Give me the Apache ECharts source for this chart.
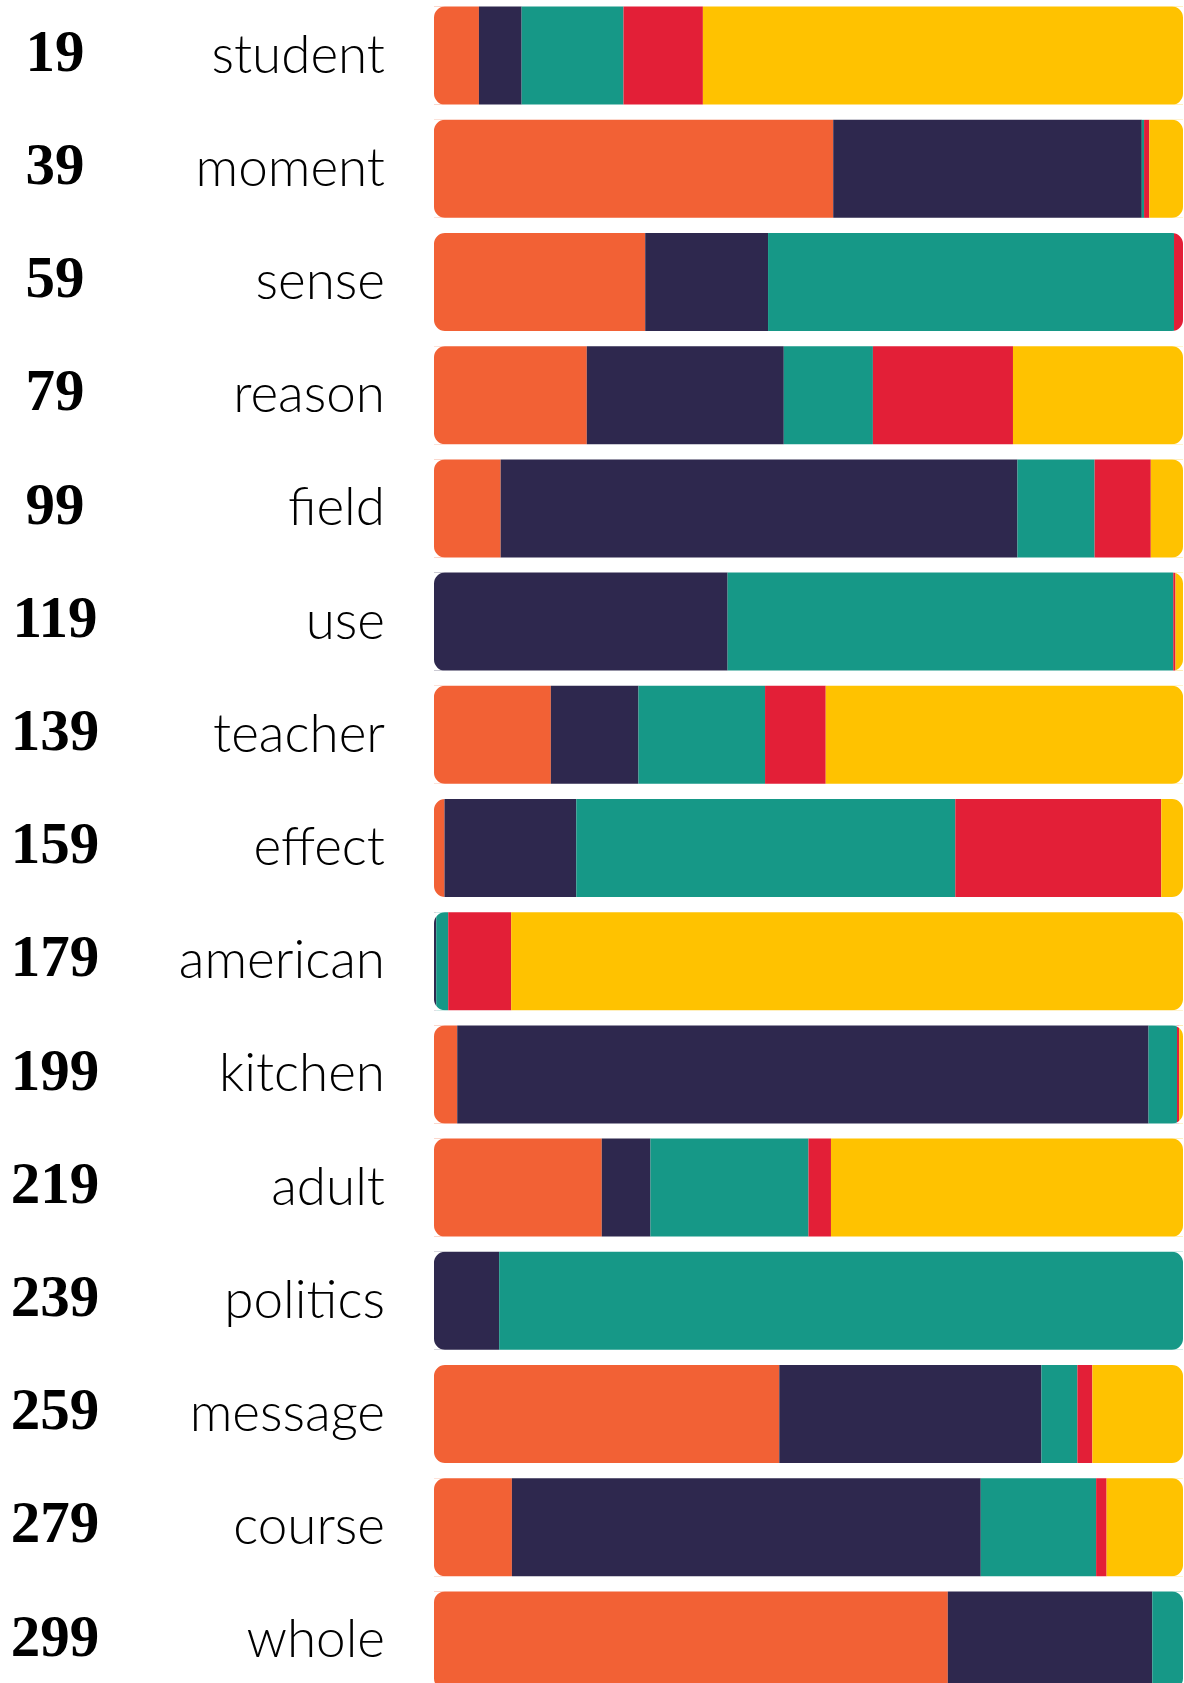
<!DOCTYPE html>
<html>
<head>
<meta charset="utf-8">
<script src="https://cdn.jsdelivr.net/npm/echarts@6/dist/echarts.min.js"></script>
<style>
  html, body { margin: 0; padding: 0; background: #fff; }
  #chart { width: 1184px; height: 1683px; }
</style>
</head>
<body>
<div id="chart"></div>
<script>
var ranks = [19, 39, 59, 79, 99, 119, 139, 159, 179, 199, 219, 239, 259, 279, 299];
var words = ['student', 'moment', 'sense', 'reason', 'field', 'use', 'teacher', 'effect',
	'american', 'kitchen', 'adult', 'politics', 'message', 'course', 'whole'];

// share of each segment per word (%), left to right
var orangeShare = [6.0, 53.3, 28.2, 20.4, 8.9, 0, 15.6, 1.4, 0, 3.1, 22.4, 0, 46.1, 10.4, 68.6];
var navyShare   = [5.7, 41.2, 16.4, 26.3, 69.0, 39.2, 11.7, 17.6, 0.3, 92.3, 6.5, 8.7, 35.0, 62.6, 27.3];
var tealShare   = [13.6, 0.3, 54.2, 11.9, 10.3, 59.5, 16.9, 50.6, 1.6, 3.8, 21.1, 91.3, 4.8, 15.4, 4.1];
var redShare    = [10.6, 0.7, 1.2, 18.7, 7.5, 0.3, 8.1, 27.5, 8.4, 0.3, 3.0, 0, 2.0, 1.4, 0];
var yellowShare = [64.1, 4.5, 0, 22.7, 4.3, 1.0, 47.7, 2.9, 89.7, 0.5, 47.0, 0, 12.1, 10.2, 0];

var shares = [orangeShare, navyShare, tealShare, redShare, yellowShare];
var colors = ['#F26135', '#2E284E', '#169887', '#E31F37', '#FFC200'];

var barH = 98;
var R = 11;

var series = shares.map(function(arr, s) {
	return {
		name: 'seg' + (s + 1),
		type: 'bar',
		stack: 'total',
		barWidth: barH,
		itemStyle: { color: colors[s] },
		emphasis: { disabled: true },
		data: arr
	};
});

// white corners on top of each row so the whole stack looks rounded
series.push({
	type: 'custom',
	silent: true,
	z: 10,
	data: words.map(function(w, i) { return [i]; }),
	renderItem: function(params, api) {
		var i = api.value(0);
		var a = api.coord([0, i]);
		var b = api.coord([100, i]);
		var x0 = a[0], x1 = b[0];
		var y0 = a[1] - barH / 2, y1 = a[1] + barH / 2;
		var d = 'M' + x0 + ',' + y0 + 'L' + (x0 + R) + ',' + y0 + 'A' + R + ',' + R + ',0,0,0,' + x0 + ',' + (y0 + R) + 'Z' +
			'M' + x1 + ',' + y0 + 'L' + x1 + ',' + (y0 + R) + 'A' + R + ',' + R + ',0,0,0,' + (x1 - R) + ',' + y0 + 'Z' +
			'M' + x1 + ',' + y1 + 'L' + (x1 - R) + ',' + y1 + 'A' + R + ',' + R + ',0,0,0,' + x1 + ',' + (y1 - R) + 'Z' +
			'M' + x0 + ',' + y1 + 'L' + x0 + ',' + (y1 - R) + 'A' + R + ',' + R + ',0,0,0,' + (x0 + R) + ',' + y1 + 'Z';
		return {
			type: 'path',
			shape: { pathData: d },
			style: { fill: '#fff' }
		};
	}
});

var myChart = echarts.init(document.getElementById('chart'));

var option = {
	animation: false,
	grid: {
		left: 434,
		right: 1,
		top: -1,
		height: 1698,
		outerBoundsMode: 'none'
	},
	xAxis: {
		type: 'value',
		min: 0,
		max: 100,
		show: false
	},
	yAxis: {
		type: 'category',
		inverse: true,
		data: words,
		axisLine: { show: false },
		axisTick: { show: false },
		splitLine: { show: false },
		axisLabel: {
			margin: 49,
			formatter: function(value, idx) {
				return '{n|' + ranks[idx] + '}{w|' + value + '}';
			},
			rich: {
				n: {
					width: 110,
					align: 'center',
					fontFamily: 'Liberation Serif',
					fontWeight: 'bold',
					fontSize: 59,
					color: '#000'
				},
				w: {
					width: 275,
					align: 'right',
					fontFamily: 'Lato',
					fontWeight: 300,
					fontSize: 53,
					color: '#000'
				}
			}
		}
	},
	series: series
};

myChart.setOption(option);
</script>
</body>
</html>
